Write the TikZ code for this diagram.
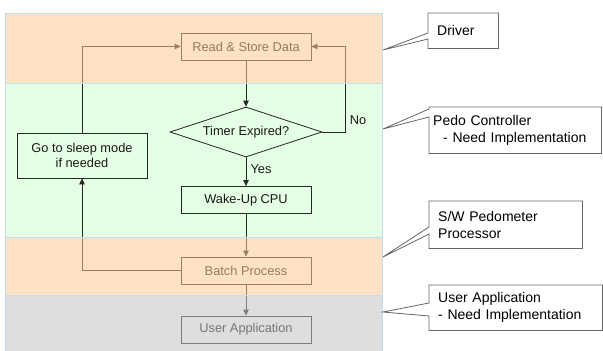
\documentclass[tikz,border=0pt]{standalone}
\usepackage{fontspec}
\setmainfont{Liberation Sans}
\usepackage{tikz}
\usetikzlibrary{shapes,arrows}
\usetikzlibrary{arrows.meta}
\usetikzlibrary{shapes.geometric}
\definecolor{bandgreen}{RGB}{229,255,229}
\definecolor{bandpeach}{RGB}{255,200,150}
\definecolor{bandgray}{RGB}{195,195,195}
\definecolor{bandedge}{RGB}{192,222,240}
\newcommand{\NOTEFRAME}[4]
{
    \draw[noteline] (#1.north west) -- (#1.north east) -- (#1.south east)
        -- (#1.south west) -- ([yshift=-#4]#1.north west) -- (#2)
        -- ([yshift=-#3]#1.north west) -- cycle;
}
\tikzset{
  flowbox/.style={
    draw=black!85,line width=0.8pt,minimum width=130pt,minimum height=27pt,
    inner sep=2pt,align=center,text=black!90,font=\fontsize{12.8}{15}\selectfont,
  },
  flowdecide/.style={
    diamond,draw=black!85,line width=0.8pt,minimum width=152pt,
    minimum height=50pt,aspect=3,inner sep=0pt,text=black!90,
    font=\fontsize{12.8}{15}\selectfont,
  },
  flowline/.style={draw=black!85,line width=0.8pt,-{Triangle[length=6pt,width=5.5pt]}},
  flowlabel/.style={inner sep=0pt,text=black!90,font=\fontsize{12.8}{15}\selectfont},
  bandveil/.style={fill opacity=0.55},
  notetext/.style={
    anchor=north west,inner xsep=9pt,inner ysep=0pt,align=left,
    font=\fontsize{14}{17}\selectfont,
  },
  noteline/.style={draw=black!60,line width=0.8pt},
}

\begin{document}
\begin{tikzpicture}[x=1pt,y=-1pt]
    \useasboundingbox (0,0) rectangle (603,351);
    \fill[bandgreen] (5,83) rectangle (382,237);

    \node[flowbox] (read) at (246,46.5) {Read \& Store Data};
    \node[flowdecide] (timer) at (246,132) {Timer Expired?};
    \node[flowbox] (wake) at (246,200) {Wake-Up CPU};
    \node[flowbox] (batch) at (246,270.5) {Batch Process};
    \node[flowbox] (userapp) at (246,329.5) {User Application};
    \node[flowbox,minimum height=45pt] (sleep) at (82,155.5) {Go to sleep mode\\if needed};
    \coordinate (noturn) at (345,132);

    \draw[flowline] (read) -- (timer);
    \draw[flowline] (timer.east) -- (noturn) |- (read.east);
    \draw[flowline] (timer) -- (wake);
    \draw[flowline] (wake) -- (batch);
    \draw[flowline] (batch) -- (userapp);
    \draw[flowline] (batch.west) -| (sleep.south);
    \draw[flowline] (sleep.north) |- (read.west);
    \node[flowlabel] (nolabel) at (358,120) {No};
    \node[flowlabel] (yeslabel) at (261,169) {Yes};

    \fill[bandpeach,bandveil] (5,13) rectangle (382,83);
    \fill[bandpeach,bandveil] (5,237) rectangle (382,295);
    \fill[bandgray,bandveil] (5,295) rectangle (382,351);
    \draw[bandedge,line width=0.6pt] (5,351) -- (5,13) -- (382,13) -- (382,351)
        (5,83) -- (382,83) (5,237) -- (382,237) (5,295) -- (382,295);

    \node[notetext,text width=52pt,minimum height=35pt] (drivernote) at (428,13) {Driver};
    \NOTEFRAME{drivernote}{383,50}{20pt}{26pt}
    \node[notetext,inner xsep=4pt,text width=164pt,minimum height=46pt] (pedonote) at (429,107)
        {Pedo Controller\\\hspace*{10pt}- Need Implementation};
    \NOTEFRAME{pedonote}{383,129}{2pt}{10pt}
    \node[notetext,text width=135pt,minimum height=47pt] (procnote) at (429,201)
        {S/W Pedometer\\Processor};
    \NOTEFRAME{procnote}{383,257}{26pt}{33pt}
    \node[notetext,text width=155pt,minimum height=45pt] (appnote) at (429,285)
        {User Application\\- Need Implementation};
    \NOTEFRAME{appnote}{383,312}{18pt}{31pt}
\end{tikzpicture}
\end{document}
